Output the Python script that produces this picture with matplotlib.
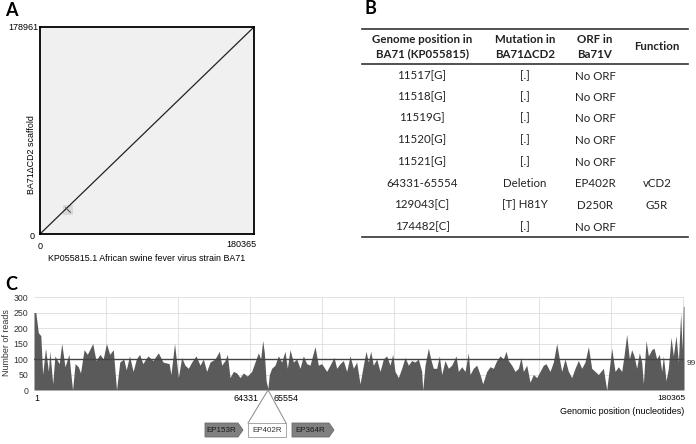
import numpy as np
import matplotlib
matplotlib.use("Agg")
import matplotlib.pyplot as plt
from matplotlib.patches import Polygon, Rectangle

plt.rcParams['font.family'] = ['Liberation Sans', 'DejaVu Sans']

# ---- panel A: dot plot ----
genome_len = 180365
scaffold_len = 178961
repeat_xy = (23600, 20700)

# ---- panel B: mutation table ----
header = ["Genome position in\nBA71 (KP055815)", "Mutation in\nBA71\u0394CD2",
          "ORF in\nBa71V", "Function"]
positions = ["11517[G]", "11518[G]", "11519G]", "11520[G]", "11521[G]",
             "64331-65554", "129043[C]", "174482[C]"]
mutations = ["[.]", "[.]", "[.]", "[.]", "[.]", "Deletion", "[T] H81Y", "[.]"]
orfs = ["No ORF", "No ORF", "No ORF", "No ORF", "No ORF", "EP402R", "D250R", "No ORF"]
functions = ["", "", "", "", "", "vCD2", "G5R", ""]

# ---- panel C: read coverage ----
cov_pos = [1, 500, 1200, 1900, 2400, 3200, 4000, 4400, 5200, 5800, 7000, 7700,
           8600, 9700, 10200, 10700, 11400, 12300, 12900, 13900, 14800, 16300,
           17200, 18300, 19200, 20100, 21000, 22000, 22900, 23800, 24900, 25600,
           26500, 27500, 28400, 29300, 30200, 31600, 33000, 34500, 35800, 37500,
           38000, 39000, 40050, 40980, 41900, 42830, 43760, 44960, 46070, 46990,
           47910, 48840, 50230, 51430, 52080, 53000, 53650, 54390, 55320, 56240,
           57170, 58090, 59200, 60400, 61330, 62250, 62900, 63460, 63920, 64400,
           64900, 65300, 65950, 66880, 67800, 68730, 69650, 70300, 71040, 71970,
           72890, 73820, 74740, 75670, 76590, 77980, 78900, 79830, 81220, 82140,
           83250, 83990, 84920, 85840, 86770, 87700, 88620, 89540, 90470, 91390,
           92130, 92780, 93430, 94160, 95090, 96020, 96940, 97870, 98790, 99530,
           100180, 101100, 102030, 102950, 103880, 104800, 105730, 106650, 107580,
           107860, 108500, 109430, 110080, 110810, 111740, 112480, 113130, 114050,
           114980, 115900, 117110, 117750, 118680, 119600, 120530, 120990, 121910,
           122840, 123770, 124510, 125620, 126540, 127460, 128390, 129320, 130240,
           130980, 131630, 132560, 133480, 134410, 135140, 135790, 136720, 137640,
           138560, 139490, 140420, 141340, 142080, 143190, 144110, 145040, 145780,
           146430, 147350, 148280, 149200, 150130, 151050, 151980, 152900, 153830,
           154750, 155680, 156600, 157990, 158910, 159650, 160300, 161230, 162150,
           163080, 163720, 164460, 165200, 165850, 166500, 167240, 167970, 168630,
           169090, 169830, 170480, 171410, 172050, 172790, 173520, 174180, 174640,
           175380, 176020, 176770, 177410, 178160, 178800, 179450, 179820, 180180,
           180365]
cov_reads = [250, 250, 185, 175, 50, 135, 60, 125, 20, 110, 85, 150,
             75, 115, 55, 0, 85, 75, 55, 130, 115, 150,
             95, 115, 100, 150, 115, 130, 0, 90, 100, 65,
             110, 60, 100, 115, 85, 110, 95, 120, 90, 85,
             50, 150, 40, 105, 80, 70, 90, 110, 80, 100,
             60, 90, 100, 125, 80, 95, 115, 40, 60, 55,
             40, 55, 45, 60, 90, 120, 100, 160, 120, 30,
             5, 50, 70, 80, 110, 90, 125, 70, 130, 90,
             100, 70, 110, 85, 80, 140, 80, 85, 60, 80,
             105, 70, 85, 95, 60, 110, 70, 90, 20, 80,
             125, 90, 125, 80, 100, 60, 100, 110, 80, 115,
             60, 40, 70, 105, 80, 95, 90, 100, 60,
             0, 80, 135, 100, 70, 70, 110, 50, 95,
             70, 80, 110, 60, 75, 60, 120, 50, 70,
             80, 50, 20, 60, 75, 70, 95, 110, 100,
             125, 95, 80, 60, 70, 105, 60, 80, 25,
             50, 40, 60, 80, 85, 60, 90, 150, 100,
             60, 100, 60, 40, 70, 95, 70, 90, 140,
             70, 60, 50, 70, 0, 70, 135, 60, 75,
             60, 110, 180, 100, 130, 110, 70, 120, 90,
             20, 160, 110, 130, 135, 100, 115, 60, 110,
             30, 70, 170, 110, 175, 90, 250, 130, 270,
             270]
mean_cov = 99
deletion = (64331, 65554)
genes = ["EP153R", "EP402R", "EP364R"]

fig = plt.figure(figsize=(6.96, 4.44), dpi=100)

# overlay in pixel coordinates for labels, table and gene map
ov = fig.add_axes([0, 0, 1, 1], zorder=5)
ov.set_xlim(0, 696)
ov.set_ylim(444, 0)
ov.axis('off')
ov.patch.set_alpha(0)

letter_kw = dict(family=['Lato', 'DejaVu Sans'], fontweight='bold', fontsize=13,
                 ha='center', va='center')
ov.text(11, 10, "A", **letter_kw)
ov.text(370, 9, "B", **letter_kw)
ov.text(11, 284, "C", **letter_kw)

# ---- A ----
axA = fig.add_axes([40 / 696, 1 - 234 / 444, 214 / 696, 207 / 444])
axA.set_facecolor('#f0f0f0')
axA.plot([0, genome_len], [0, scaffold_len], color='#222222', lw=0.9)
axA.add_patch(Rectangle((repeat_xy[0] - 4000, repeat_xy[1] - 4000), 8000, 8000,
                        color='#d9d9d9', lw=0, zorder=0))
axA.plot([repeat_xy[0] - 2000, repeat_xy[0] + 2000],
         [repeat_xy[1] + 2000, repeat_xy[1] - 2000], color='#444444', lw=0.7)
axA.set_xlim(0, genome_len)
axA.set_ylim(0, scaffold_len)
axA.set_xticks([])
axA.set_yticks([])
for sp in axA.spines.values():
    sp.set_linewidth(1.3)
ov.text(38, 28, str(scaffold_len), fontsize=6.5, ha='right', va='center')
ov.text(35, 236, "0", fontsize=6.5, ha='right', va='center')
ov.text(40, 246, "0", fontsize=6.5, ha='center', va='center')
ov.text(256, 244, str(genome_len), fontsize=6.5, ha='right', va='center')
ov.text(147, 258, "KP055815.1 African swine fever virus strain BA71", fontsize=6.4,
        ha='center', va='center')
ov.text(31, 155, "BA71\u0394CD2 scaffold", fontsize=6.4, ha='center', va='center',
        rotation=90)

# ---- B ----
tfont = ['Lato', 'DejaVu Sans']
col_x = [422, 525, 595, 657]
ov.plot([362, 688], [29, 29], color='#333333', lw=1.2)
ov.plot([362, 688], [64, 64], color='#333333', lw=1.2)
ov.plot([362, 688], [237, 237], color='#333333', lw=1.2)
for x, h in zip(col_x, header):
    ov.text(x, 47, h, family=tfont, fontweight='bold', fontsize=8.3, ha='center',
            va='center', linespacing=1.35, color='#222222')
row_y = [76, 97, 118, 140, 162, 183, 205, 227]
for i, y in enumerate(row_y):
    for x, col in zip(col_x, [positions, mutations, orfs, functions]):
        ov.text(x, y, col[i], family=tfont, fontsize=8.3, ha='center', va='center',
                color='#222222')

# ---- C ----
axC = fig.add_axes([34 / 696, 1 - 390 / 444, 650 / 696, 93 / 444])
axC.fill_between(cov_pos, 0, cov_reads, color='#5a5a5a', lw=0)
axC.axhline(mean_cov, color='#444444', lw=1)
axC.set_xlim(1, genome_len)
axC.set_ylim(0, 300)
axC.set_yticks(range(0, 301, 50))
axC.set_xticks(range(20000, genome_len, 20000))
axC.set_xticklabels([])
axC.grid(True, color='#dddddd', lw=0.6)
axC.set_axisbelow(True)
axC.tick_params(length=0, labelsize=6.3, labelcolor='#333333', pad=4)
for sp in axC.spines.values():
    sp.set_visible(False)
ov.text(7, 343, "Number of reads", fontsize=6.4, ha='center', va='center',
        rotation=90, color='#333333')
ov.text(37, 398, "1", fontsize=6.3, ha='center', va='center')
ov.text(258, 398, str(deletion[0]), fontsize=6.4, ha='right', va='center')
ov.text(274, 398, str(deletion[1]), fontsize=6.4, ha='left', va='center')
ov.text(685, 398, str(genome_len), fontsize=6, ha='right', va='center')
ov.text(684, 411, "Genomic position (nucleotides)", fontsize=6.5, ha='right',
        va='center')
ov.text(687, 363, str(mean_cov), fontsize=6, ha='left', va='center',
        color='#333333')

# gene map below deletion
dx, dy = axC.transData.transform((sum(deletion) / 2, 0))
px, py = ov.transData.inverted().transform((dx, dy))
ov.plot([px, 248], [py, 423], color='#888888', lw=0.7)
ov.plot([px, 286], [py, 423], color='#888888', lw=0.7)

def gene_arrow(x0, x1, y0, y1, name, face, edge, txt):
    tip = 5 if face != 'white' else 0
    pts = [(x0, y0), (x1 - tip, y0), (x1, (y0 + y1) / 2), (x1 - tip, y1), (x0, y1)]
    ov.add_patch(Polygon(pts, closed=True, facecolor=face, edgecolor=edge, lw=0.6))
    ov.text((x0 + x1 - tip) / 2, (y0 + y1) / 2, name, fontsize=5.8, ha='center',
            va='center', color=txt)

gene_arrow(205, 243, 423, 437, genes[0], '#808080', '#6a6a6a', '#1a1a1a')
gene_arrow(248, 286, 423, 437, genes[1], 'white', '#999999', '#333333')
gene_arrow(292, 334, 423, 437, genes[2], '#808080', '#6a6a6a', '#1a1a1a')

fig.savefig("out.png", dpi=100)
